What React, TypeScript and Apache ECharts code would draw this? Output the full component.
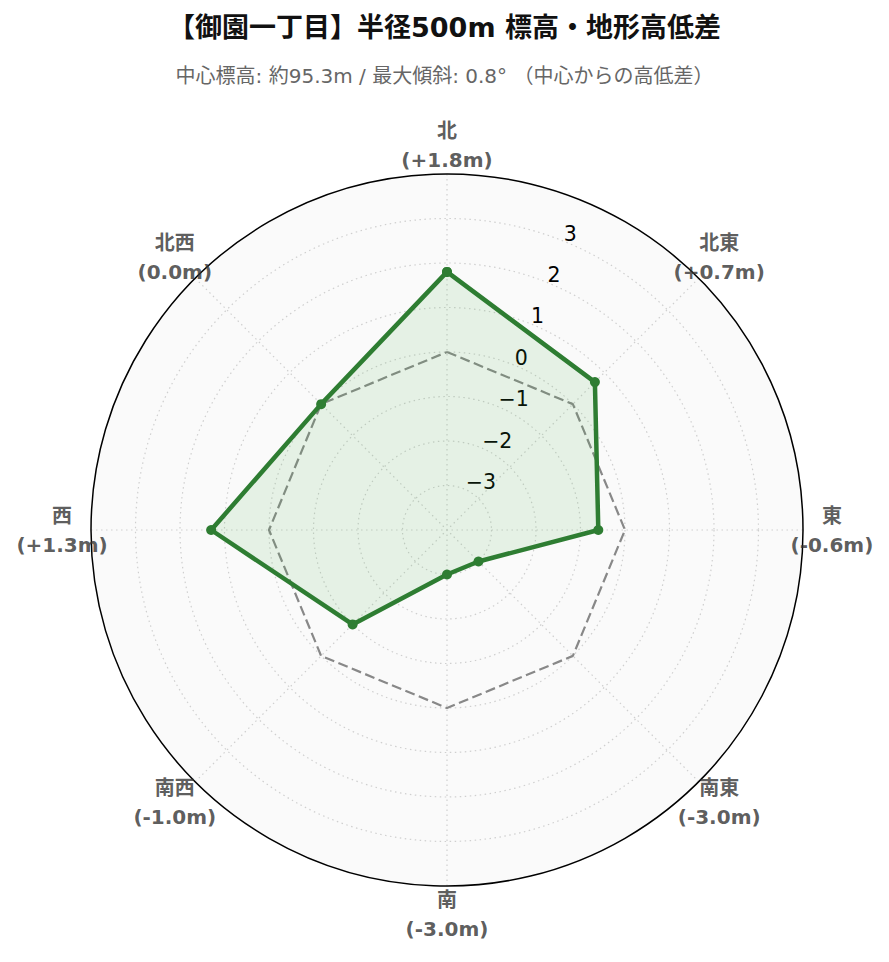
import React, { useEffect, useRef } from 'react';
import * as echarts from 'echarts';

const directions = ['北', '北東', '東', '南東', '南', '南西', '西', '北西'];
const heightDiffs = [1.8, 0.7, -0.6, -3.0, -3.0, -1.0, 1.3, 0.0];
const baseline = [0, 0, 0, 0, 0, 0, 0, 0];
const radiusTicks = [-4, -3, -2, -1, 0, 1, 2, 3, 4];
const titleText = '【御園一丁目】半径500m 標高・地形高低差';
const subtitleText = '中心標高: 約95.3m / 最大傾斜: 0.8° （中心からの高低差）';

const FONT = "'DejaVu Sans', 'Noto Sans CJK JP', sans-serif";

const fmtDiff = (v: number) => (v > 0 ? `+${v.toFixed(1)}` : v.toFixed(1));
const fmtTick = (v: number) =>
  v <= radiusTicks[0] || v >= radiusTicks[radiusTicks.length - 1]
    ? ''
    : v < 0
    ? `−${Math.abs(v)}`
    : String(v);

// angle of each direction (clockwise from north)
const dirAngle = (i: number) => (i * 360) / directions.length;
// close the polygon by repeating the first direction at 360°
const closed = (vals: number[]) => [...vals.map((v, i) => [v, dirAngle(i)]), [vals[0], 360]];

const App: React.FC = () => {
  const chartRef = useRef<HTMLDivElement>(null);

  useEffect(() => {
    document.body.style.margin = '0';
    const chart = echarts.init(chartRef.current!, undefined, { renderer: 'svg' });

    const gridColors = radiusTicks.map((_, i) => (i === radiusTicks.length - 1 ? 'transparent' : '#cfcfcf'));
    const dotted = [1.5, 3.5];

    const option = {
      animation: false,
      backgroundColor: '#fff',
      title: [
        {
          text: titleText,
          left: 'center',
          top: 9,
          textStyle: { fontSize: 27, fontWeight: 'bold', color: '#111', fontFamily: FONT },
        },
        {
          text: subtitleText,
          left: 'center',
          top: 61,
          textStyle: { fontSize: 20, fontWeight: 'normal', color: '#666', fontFamily: FONT },
        },
      ],
      polar: [
        { center: [447, 530], radius: 356 },
        { center: [447, 530], radius: [7, 363] },
        { center: [447, 530], radius: 356 },
      ],
      angleAxis: [
        {
          polarIndex: 0,
          type: 'value',
          min: 0,
          max: 360,
          interval: 360 / directions.length,
          startAngle: 90,
          clockwise: true,
          axisLine: { show: true, lineStyle: { color: '#000', width: 1.5 } },
          axisTick: { show: false },
          axisLabel: { show: false },
          splitLine: { show: true, lineStyle: { color: '#cfcfcf', width: 1.2, type: dotted } },
        },
        { polarIndex: 1, type: 'value', min: 0, max: 360, startAngle: 68.5, show: false },
        { polarIndex: 2, type: 'value', min: 0, max: 360, startAngle: 90, show: false },
      ],
      radiusAxis: [
        {
          polarIndex: 0,
          type: 'value',
          min: -4,
          max: 4,
          interval: 1,
          axisLine: { show: false },
          axisTick: { show: false },
          axisLabel: { show: false },
          splitLine: { show: false },
          splitArea: { show: true, areaStyle: { color: ['#fafafa'] } },
        },
        {
          polarIndex: 1,
          type: 'value',
          min: -4,
          max: 4,
          interval: 1,
          axisLine: { show: false },
          axisTick: { show: false },
          splitLine: { show: false },
          axisLabel: {
            show: true,
            margin: 0,
            align: 'left',
            verticalAlign: 'middle',
            fontSize: 20.5,
            color: '#000',
            fontFamily: FONT,
            formatter: (v: number) => fmtTick(v),
          },
        },
        {
          polarIndex: 2,
          type: 'value',
          min: -4,
          max: 4,
          interval: 1,
          axisLine: { show: false },
          axisTick: { show: false },
          axisLabel: { show: false },
          splitLine: { show: true, lineStyle: { color: gridColors, width: 1.2, type: dotted } },
        },
      ],
      series: [
        {
          name: 'baseline',
          type: 'line',
          coordinateSystem: 'polar',
          polarIndex: 0,
          clip: false,
          data: closed(baseline),
          symbol: 'none',
          silent: true,
          lineStyle: { color: '#888', width: 2.2, type: [10, 4.5] },
          z: 2,
        },
        {
          name: 'diff',
          type: 'line',
          coordinateSystem: 'polar',
          polarIndex: 0,
          clip: false,
          data: closed(heightDiffs),
          symbol: 'circle',
          symbolSize: 10,
          itemStyle: { color: '#2e7d32' },
          lineStyle: { color: '#2e7d32', width: 4.5 },
          areaStyle: { color: 'rgba(76,175,80,0.17)', origin: 'start' },
          z: 3,
        },
        {
          name: 'labels',
          type: 'scatter',
          coordinateSystem: 'polar',
          polarIndex: 0,
          clip: false,
          silent: true,
          symbolSize: 1,
          itemStyle: { color: 'transparent' },
          data: directions.map((_, i) => [4.65, dirAngle(i)]),
          label: {
            show: true,
            position: 'inside',
            align: 'center',
            verticalAlign: 'middle',
            fontSize: 20,
            fontWeight: 'bold',
            lineHeight: 29,
            color: '#333',
            fontFamily: FONT,
            formatter: (p: any) => `${directions[p.dataIndex]}\n(${fmtDiff(heightDiffs[p.dataIndex])}m)`,
          },
          z: 4,
        },
      ],
    };

    chart.setOption(option as any);

    const handleResize = () => chart.resize();
    window.addEventListener('resize', handleResize);
    return () => {
      window.removeEventListener('resize', handleResize);
      chart.dispose();
    };
  }, []);

  return <div ref={chartRef} style={{ width: '889px', height: '962px' }} />;
};

export default App;
